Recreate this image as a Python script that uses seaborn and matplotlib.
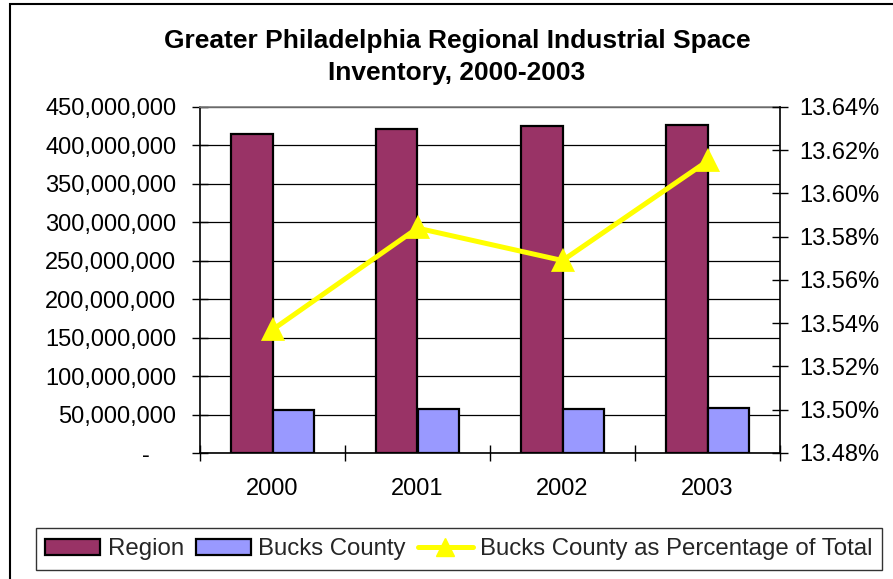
import matplotlib
matplotlib.use("Agg")
import matplotlib.pyplot as plt
from matplotlib.patches import Rectangle, Patch
from matplotlib.lines import Line2D
from matplotlib.ticker import FixedLocator, FuncFormatter, MultipleLocator
import numpy as np
import pandas as pd
import seaborn as sns

# Industrial space inventory (square feet) and Bucks County share of the region
years = ["2000", "2001", "2002", "2003"]
region_sqft = [414.8e6, 421.8e6, 425.7e6, 427.0e6]
bucks_sqft = [56.2e6, 57.3e6, 57.8e6, 58.1e6]
bucks_share_pct = [13.537, 13.584, 13.569, 13.615]

series_names = ["Region", "Bucks County"]
share_name = "Bucks County as Percentage of Total"
bar_colors = ["#993366", "#9999FF"]
line_color = "#FFFF00"

sns.set_theme(style="white")
plt.rcParams["font.family"] = ["Liberation Sans", "DejaVu Sans"]

bars = pd.DataFrame({
    "Year": years * 2,
    "Space": region_sqft + bucks_sqft,
    "Series": [series_names[0]] * len(years) + [series_names[1]] * len(years),
})
share = pd.DataFrame({"Year": years, "Share": bucks_share_pct})

W, H = 893, 579
fig = plt.figure(figsize=(W / 100, H / 100), dpi=100)
fig.patch.set_facecolor("white")

left, right, top, bottom = 200, 780, 107, 453
ax = fig.add_axes([left / W, 1 - bottom / H, (right - left) / W, (bottom - top) / H])

sns.barplot(data=bars, x="Year", y="Space", hue="Series", hue_order=series_names,
            palette=bar_colors, width=2 / 3.5, gap=0, saturation=1,
            edgecolor="black", linewidth=1.6, legend=False, ax=ax)

ax2 = ax.twinx()
sns.pointplot(data=share, x="Year", y="Share", color=line_color, markers="^",
              markersize=13, linewidth=3.6, errorbar=None, ax=ax2)

# Left axis: square feet
ax.set_ylim(0, 450e6)
ax.yaxis.set_major_locator(MultipleLocator(50e6))
ax.yaxis.set_major_formatter(FuncFormatter(
    lambda v, p: "-    " if abs(v) < 1 else f"{v:,.0f}"))
ax.set_axisbelow(True)
ax.yaxis.grid(True, color="black", linewidth=0.9)
ax.xaxis.grid(False)

# Right axis: percentage share
ax2.set_ylim(13.48, 13.64)
ax2.yaxis.set_major_locator(MultipleLocator(0.02))
ax2.yaxis.set_major_formatter(FuncFormatter(lambda v, p: f"{v:.2f}%"))
ax2.grid(False)

# Category axis: ticks between groups, labels centred on groups
n = len(years)
ax.set_xlim(-0.5, n - 0.5)
ax.xaxis.set_major_locator(FixedLocator(np.arange(-0.5, n, 1.0)))
ax.xaxis.set_major_formatter(FuncFormatter(lambda v, p: ""))
ax.xaxis.set_minor_locator(FixedLocator(np.arange(n)))
ax.xaxis.set_minor_formatter(FuncFormatter(lambda v, p: years[int(round(v))]))
ax.set_xlabel("")
ax.set_ylabel("")
ax2.set_xlabel("")
ax2.set_ylabel("")

fs = 17
ax.tick_params(axis="y", which="major", direction="inout", length=12, width=1,
               color="black", labelsize=fs, pad=11, left=True, labelcolor="black")
ax.tick_params(axis="x", which="major", direction="inout", length=12, width=1,
               color="black", bottom=True)
ax.tick_params(axis="x", which="minor", length=0, labelsize=fs, pad=18,
               bottom=True, labelbottom=True, labelcolor="black")
ax2.tick_params(axis="y", which="major", direction="inout", length=12, width=1,
                color="black", labelsize=fs, pad=8, right=True, labelcolor="black")

for name, sp in ax.spines.items():
    sp.set_visible(True)
    sp.set_linewidth(1.2)
    sp.set_color("black")
ax.spines["top"].set_color("#808080")
ax.spines["right"].set_visible(False)
for name, sp in ax2.spines.items():
    sp.set_visible(name == "right")
ax2.spines["right"].set_color("black")
ax2.spines["right"].set_linewidth(1.2)

# Title
fig.text(457 / W, 1 - 57 / H,
         "Greater Philadelphia Regional Industrial Space\nInventory, 2000-2003",
         ha="center", va="center", fontsize=19, fontweight="bold",
         linespacing=1.45, color="black")

# Legend
handles = [
    Patch(facecolor=bar_colors[0], edgecolor="black", linewidth=1.6, label=series_names[0]),
    Patch(facecolor=bar_colors[1], edgecolor="black", linewidth=1.6, label=series_names[1]),
    Line2D([], [], color=line_color, linewidth=3.6, marker="^", markersize=13,
           label=share_name),
]
leg = fig.legend(handles=handles, loc="center", bbox_to_anchor=(459 / W, 1 - 549 / H),
                 ncol=3, fontsize=17.3, frameon=True, fancybox=False, shadow=False,
                 handlelength=2.3, handleheight=0.65, handletextpad=0.3,
                 columnspacing=0.5, borderpad=0.4, borderaxespad=0)
leg.get_frame().set_edgecolor("black")
leg.get_frame().set_linewidth(1.0)

# Chart area border
fig.patches.append(Rectangle((10 / W, -0.1), 1.2, 1 - 4.5 / H + 0.1,
                             transform=fig.transFigure, fill=False,
                             edgecolor="black", linewidth=1.5, zorder=0))

fig.savefig("out.png", dpi=100, facecolor="white")
